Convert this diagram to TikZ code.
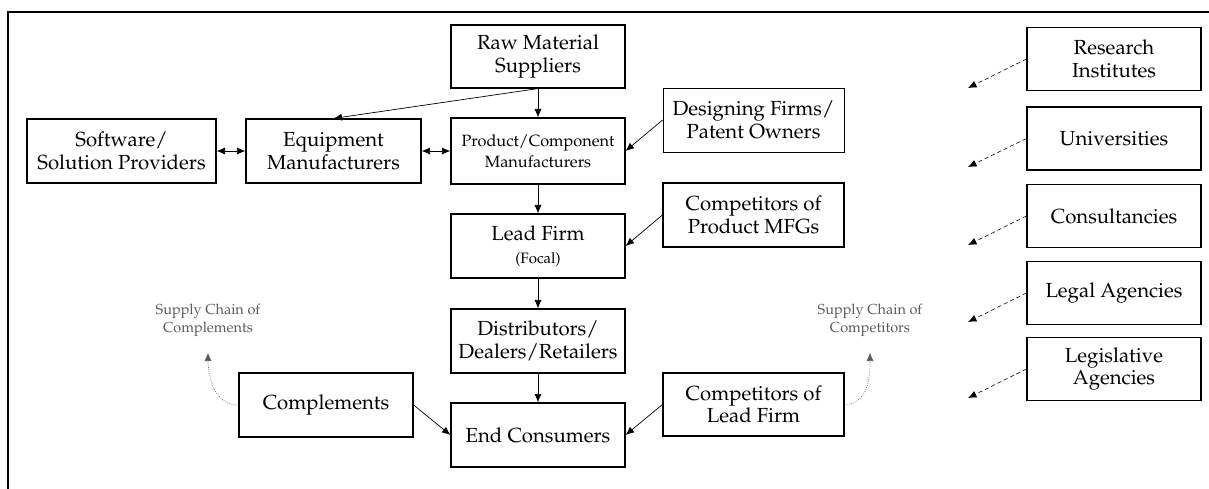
\documentclass[tikz,border=0pt]{standalone}
\usepackage[T1]{fontenc}
\usepackage{mathpazo}
\usepackage{tikz}
\usetikzlibrary{
  arrows.meta,
  positioning
}
\usepackage{xcolor}
\definecolor{chaingray}{RGB}{90,90,90}

\begin{document}
\begin{tikzpicture}[
  x=0.025cm, y=-0.025cm,
  every node/.style={font=\fontsize{14.5}{16}\selectfont},
  actor/.style={draw, line width=0.8pt, align=center, inner sep=2pt,
                minimum width=4.35cm, minimum height=1.6cm},
  flow/.style={-{Latex[length=6pt,width=5pt]}, line width=0.5pt},
  both/.style={{Latex[length=6pt,width=5pt]}-{Latex[length=6pt,width=5pt]}, line width=0.5pt},
  support/.style={-{Latex[length=6pt,width=5pt]}, densely dashed, line width=0.4pt},
  chain/.style={-{Latex[length=6pt,width=5pt]}, densely dotted, draw=chaingray,
                line width=0.5pt, shorten >=8pt},
  chainlabel/.style={text=chaingray, align=center,
                     font=\fontsize{10.3}{13}\selectfont},
]
\useasboundingbox (0,0) rectangle (1209,488);

% outer frame
\draw[line width=1.3pt] (8,500) -- (8,12) -- (1220,12);

% main supply chain
\node[actor, minimum height=1.575cm] (raw) at (538,56.5) {Raw Material\\Suppliers};
\node[actor, minimum height=1.65cm, font=\fontsize{11.6}{15}\selectfont] (product) at (538,151) {Product/Component\\Manufacturers};
\node[actor] (lead) at (538,246) {Lead Firm\\{\fontsize{10.7}{13}\selectfont (Focal)}};
\node[actor] (dist) at (538,341) {Distributors/\\Dealers/Retailers};
\node[actor] (endc) at (538,435) {End Consumers};

\node[actor, minimum width=4.725cm] (software) at (121.5,151) {Software/\\Solution Providers};
\node[actor, minimum width=4.375cm] (equip) at (333.5,151) {Equipment\\Manufacturers};
\node[actor, minimum width=4.525cm, line width=0.6pt] (design) at (753.5,120) {Designing Firms/\\Patent Owners};
\node[actor, minimum width=4.525cm] (compprod) at (753.5,215) {Competitors of\\Product MFGs};
\node[actor] (complements) at (326,405) {Complements};
\node[actor, minimum width=4.525cm, minimum height=1.575cm] (complead) at (753.5,404.5) {Competitors of\\Lead Firm};

% supporting institutions
\node[actor, minimum height=1.575cm] (research) at (1114,59) {Research\\Institutes};
\node[actor, minimum height=1.575cm] (univ) at (1114,138.5) {Universities};
\node[actor, minimum height=1.575cm] (consult) at (1114,216) {Consultancies};
\node[actor, minimum height=1.575cm] (legal) at (1114,293) {Legal Agencies};
\node[actor, minimum height=1.575cm] (legis) at (1114,369) {Legislative\\Agencies};

\coordinate (rtip) at (968,88);
\coordinate (utip) at (968,167);
\coordinate (ctip) at (968,245);
\coordinate (gtip) at (968,322);
\coordinate (ltip) at (968,398);

% side chains
\node[chainlabel] (complchain) at (208,320) {Supply Chain of\\Complements};
\node[chainlabel] (compchain) at (870,320) {Supply Chain of\\Competitors};

\draw[flow] (raw) -- (product);
\draw[flow] (raw.south) -- (equip.north);
\draw[flow] (product) -- (lead);
\draw[flow] (lead) -- (dist);
\draw[flow] (dist) -- (endc);
\draw[both] (software) -- (equip);
\draw[both] (equip) -- (product);
\draw[flow] (design.west) -- (product.east);
\draw[flow] (compprod.west) -- (lead.east);
\draw[flow] (complements.east) -- (endc.west);
\draw[flow] (complead.west) -- (endc.east);

\draw[support] (research.west) -- (rtip);
\draw[support] (univ.west) -- (utip);
\draw[support] (consult.west) -- (ctip);
\draw[support] (legal.west) -- (gtip);
\draw[support] (legis.west) -- (ltip);

\draw[chain] (complements.west) to[out=180, in=-90] (complchain.south);
\draw[chain] (complead.east) to[out=0, in=-90] (compchain.south);

\end{tikzpicture}
\end{document}
